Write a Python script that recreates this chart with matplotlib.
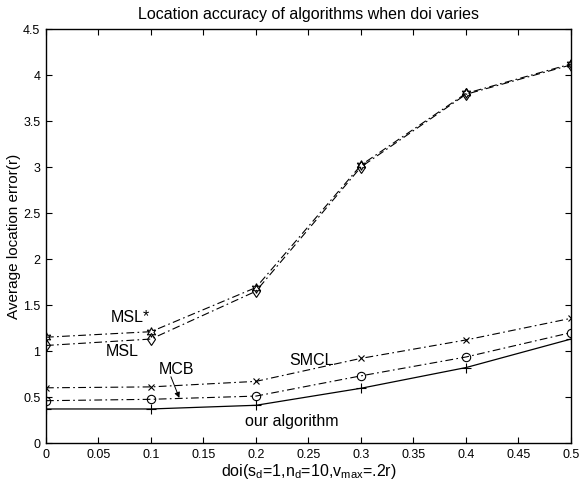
import numpy as np
import matplotlib.pyplot as plt

plt.rcParams['font.family'] = ['Liberation Sans', 'DejaVu Sans']

doi = [0, 0.1, 0.2, 0.3, 0.4, 0.5]
msl_star = [1.15, 1.21, 1.69, 3.02, 3.80, 4.12]
msl = [1.06, 1.13, 1.65, 3.00, 3.79, 4.11]
smcl = [0.60, 0.61, 0.67, 0.92, 1.12, 1.355]
mcb = [0.46, 0.475, 0.51, 0.73, 0.935, 1.20]
ours = [0.37, 0.37, 0.41, 0.595, 0.82, 1.13]

fig = plt.figure(figsize=(5.85, 4.9), dpi=100)
ax = fig.add_axes([0.0786, 0.0959, 0.8974, 0.8449])

dashdot = (0, (7, 3, 1.5, 3))
ax.plot(doi, msl_star, color='k', lw=0.8, ls=dashdot, marker=(6, 1, 0),
        ms=7, mfc='none', mew=0.8)
ax.plot(doi, msl, color='k', lw=0.8, ls=dashdot, marker='d',
        ms=6, mfc='none', mew=0.8)
ax.plot(doi, smcl, color='k', lw=0.8, ls=dashdot, marker='x',
        ms=4, mew=0.8)
ax.plot(doi, mcb, color='k', lw=0.8, ls=dashdot, marker='o',
        ms=6, mfc='none', mew=0.8)
ax.plot(doi, ours, color='k', lw=0.9, ls='-', marker='+',
        ms=7, mew=0.8)

ax.set_xlim(0, 0.5)
ax.set_ylim(0, 4.5)
ax.set_xticks(np.arange(0, 0.51, 0.05))
ax.set_xticklabels(['0', '0.05', '0.1', '0.15', '0.2', '0.25', '0.3',
                    '0.35', '0.4', '0.45', '0.5'])
ax.set_yticks(np.arange(0, 4.51, 0.5))
ax.set_yticklabels(['0', '0.5', '1', '1.5', '2', '2.5', '3', '3.5', '4', '4.5'])
ax.tick_params(direction='in', top=True, right=True, labelsize=9, length=4,
               width=0.8, pad=4)
for s in ax.spines.values():
    s.set_linewidth(1.0)

ax.set_title('Location accuracy of algorithms when doi varies', fontsize=11.5, pad=7)
ax.set_xlabel(r'doi(s$_\mathregular{d}$=1,n$_\mathregular{d}$=10,v$_\mathregular{max}$=.2r)',
              fontsize=11.5, labelpad=1)
ax.set_ylabel('Average location error(r)', fontsize=11)
ax.yaxis.set_label_coords(-0.047, 0.5)

ax.text(0.08, 1.36, 'MSL*', fontsize=11.5, ha='center', va='center')
ax.text(0.073, 0.99, 'MSL', fontsize=11.5, ha='center', va='center')
ax.text(0.253, 0.90, 'SMCL', fontsize=11.5, ha='center', va='center')
ax.text(0.234, 0.23, 'our algorithm', fontsize=11.5, ha='center', va='center')
ax.text(0.124, 0.80, 'MCB', fontsize=11.5, ha='center', va='center')
ax.annotate('', xy=(0.127, 0.49), xytext=(0.119, 0.72),
            arrowprops=dict(arrowstyle='-|>', color='k', lw=0.7,
                            shrinkA=0, shrinkB=0, mutation_scale=8))

fig.savefig('out.png', dpi=100)
